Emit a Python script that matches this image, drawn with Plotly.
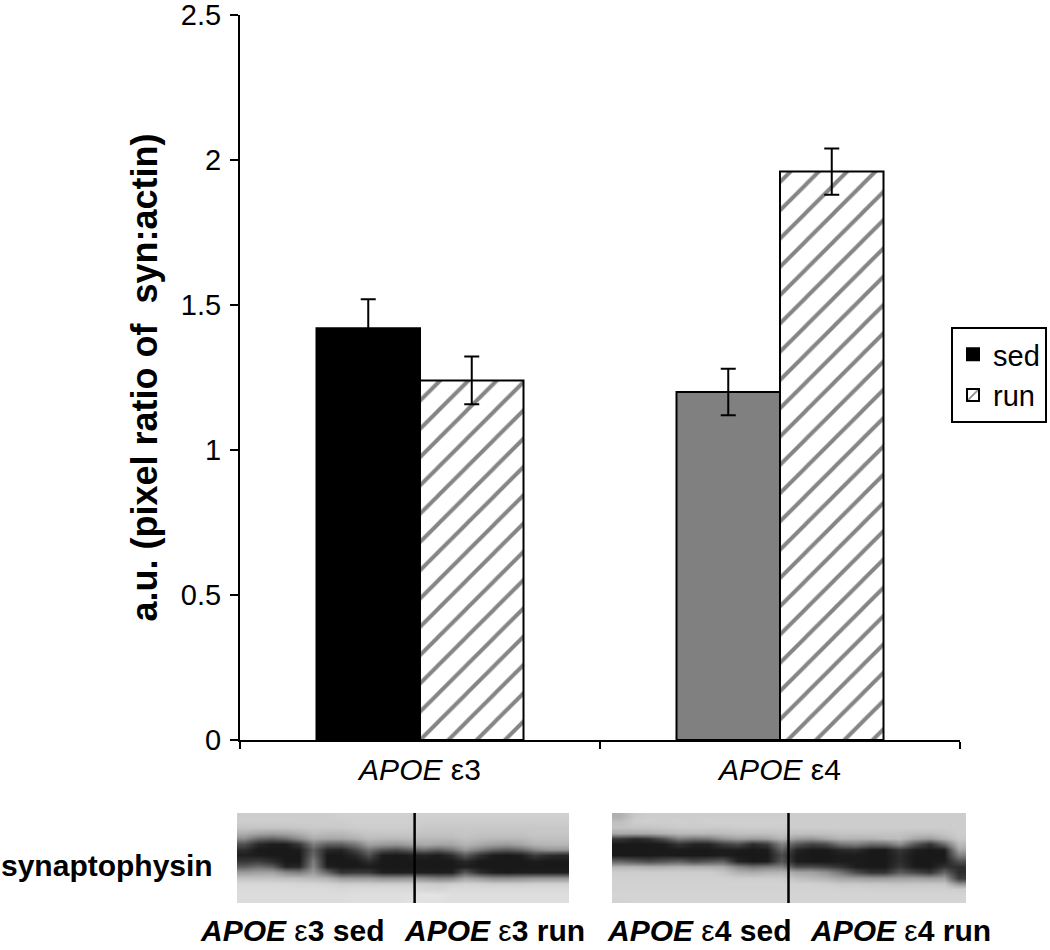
import plotly.graph_objects as go

categories = ["<i>APOE</i> ε3", "<i>APOE</i> ε4"]
sed_values = [1.42, 1.20]
run_values = [1.24, 1.96]
sed_errors = [0.10, 0.08]
run_errors = [0.082, 0.08]
sed_colors = ["#000000", "#808080"]
y_ticks = [0, 0.5, 1, 1.5, 2, 2.5]
y_labels = ["0", "0.5", "1", "1.5", "2", "2.5"]
blot_labels = ["<b><i>APOE</i></b> ε<b>3 sed</b>", "<b><i>APOE</i></b> ε<b>3 run</b>",
               "<b><i>APOE</i></b> ε<b>4 sed</b>", "<b><i>APOE</i></b> ε<b>4 run</b>"]

# estimated grey levels of the western-blot photographs (rows top to bottom)
left_blot = [
 [205,205,205,205,205,205,205,208,208,208,208,208,208,208,208,208,208,208,208,208,208,208,208,208],
 [205,205,205,205,205,205,205,205,208,208,208,208,208,205,205,205,205,205,205,205,205,205,205,205],
 [198,198,198,198,200,202,202,202,205,205,205,205,205,200,200,200,200,200,200,200,200,200,200,200],
 [175,165,160,165,175,190,185,185,192,198,198,198,198,195,195,195,198,195,195,195,195,198,198,198],
 [140,105,95,110,140,170,165,165,175,188,185,185,188,185,185,185,192,188,185,185,185,192,192,192],
 [80,40,28,28,55,125,95,95,120,160,155,150,160,170,165,165,180,170,160,155,165,180,182,182],
 [45,25,25,25,28,95,40,35,70,115,85,75,95,110,95,115,150,125,100,90,105,135,150,150],
 [32,28,25,25,25,105,25,25,40,80,28,25,30,35,28,45,90,50,28,25,30,60,45,40],
 [55,60,45,25,25,125,25,25,25,45,25,25,25,25,25,25,40,25,25,25,25,28,25,25],
 [95,110,95,35,40,135,32,25,25,28,25,25,25,25,25,25,30,25,25,25,25,25,25,25],
 [155,160,160,135,125,155,100,50,55,55,30,28,30,30,28,30,85,45,28,25,28,28,28,28],
 [195,195,195,190,190,185,178,155,155,155,145,145,150,140,130,135,165,155,140,140,145,150,150,150],
 [215,215,215,215,212,212,210,205,205,205,205,205,205,205,200,205,210,208,205,205,205,208,208,208],
 [218,218,218,218,218,218,218,215,218,218,218,218,218,215,212,218,218,218,218,218,218,218,218,218],
 [220,220,220,220,220,220,220,220,222,222,222,222,225,228,228,222,222,222,222,222,222,222,222,222],
 [220,220,220,220,220,220,220,220,222,222,222,222,225,225,225,222,222,222,222,222,222,222,222,222],
]
right_blot = [
 [175,200,205,205,205,205,205,205,205,205,205,205,205,205,205,205,205,205,205,205,205,205,205,205],
 [190,205,208,205,208,205,208,208,208,208,208,208,205,205,205,205,205,205,205,205,205,205,205,205],
 [195,198,198,200,203,203,203,203,205,205,205,205,205,205,205,205,205,205,205,205,205,205,205,205],
 [170,170,172,178,185,185,185,187,192,192,192,196,192,192,192,196,196,196,196,196,190,190,196,205],
 [55,40,50,80,125,115,120,145,160,155,160,180,155,150,165,180,178,178,185,188,165,155,178,200],
 [25,25,25,28,50,35,35,60,75,42,60,130,85,65,75,115,125,105,110,140,85,50,105,185],
 [25,25,25,25,26,25,25,28,28,25,28,100,35,25,25,40,45,25,25,55,30,25,28,165],
 [25,25,25,28,26,25,25,30,25,25,25,75,28,25,25,28,28,25,25,45,25,25,25,130],
 [100,85,75,85,95,75,85,95,35,25,28,85,28,25,25,28,28,25,25,45,25,25,28,80],
 [180,180,175,175,180,175,175,170,135,115,125,130,75,75,65,50,28,25,25,55,26,25,50,45],
 [205,205,205,205,205,205,205,198,178,172,178,180,165,160,145,115,75,50,50,90,70,50,100,45],
 [208,208,208,208,208,208,208,208,205,205,205,205,192,185,178,165,160,155,155,160,160,155,160,60],
 [210,210,210,210,210,210,210,210,210,210,210,210,208,208,206,200,200,198,198,195,198,198,198,145],
 [210,210,210,210,210,210,210,210,210,210,210,210,210,210,210,210,210,208,208,208,208,208,208,205],
 [212,212,212,212,212,212,212,212,212,212,212,212,212,212,212,212,212,212,212,212,212,212,212,212],
 [210,212,212,212,212,212,212,212,212,212,212,212,212,212,212,212,212,212,212,212,212,212,212,212],
]
left_separator = [0.535]
right_separator = [0.4986]

W, H = 1050, 950
grey = [[0, "#000000"], [1, "#ffffff"]]

fig = go.Figure()
fig.add_bar(name="sed", x=categories, y=sed_values,
            marker=dict(color=sed_colors, line=dict(color="black", width=2)),
            error_y=dict(type="data", array=sed_errors, color="black", thickness=2, width=7.5))
fig.add_bar(name="run", x=categories, y=run_values,
            marker=dict(color="white", line=dict(color="black", width=2),
                        pattern=dict(shape="/", fgcolor="#858585", bgcolor="white", fgopacity=1,
                                     fillmode="replace", size=20, solidity=0.2)),
            error_y=dict(type="data", array=run_errors, color="black", thickness=2, width=7.5))

for blot, xa, ya in ((left_blot, "x2", "y2"), (right_blot, "x3", "y3")):
    fig.add_heatmap(z=blot, xaxis=xa, yaxis=ya, colorscale=grey, zmin=0, zmax=255,
                    zsmooth="best", showscale=False, hoverinfo="skip", showlegend=False)

hidden = dict(visible=False, showgrid=False, zeroline=False, automargin=False)
fig.update_layout(
    template="none",
    width=W, height=H, margin=dict(l=0, r=0, t=0, b=0, pad=0), autosize=False,
    paper_bgcolor="white", plot_bgcolor="white", barmode="group", bargap=0.425, bargroupgap=0,
    font=dict(family="Liberation Sans, Arial, sans-serif", color="black", size=29),
    xaxis=dict(domain=[240/W, 960/W], anchor="y", showline=True, linecolor="black", linewidth=2,
               ticks="outside", ticklen=7, tickwidth=2, tickcolor="black", tickson="boundaries",
               tickfont=dict(size=30), showgrid=False, automargin=False, ticklabelstandoff=2),
    yaxis=dict(domain=[1-740/H, 1-15/H], anchor="x", range=[0, 2.5], tickvals=y_ticks, ticktext=y_labels,
               showline=True, linecolor="black", linewidth=2, ticks="outside", ticklen=8, tickwidth=2,
               tickcolor="black", tickfont=dict(size=29), showgrid=False, zeroline=False, automargin=False,
               ticklabelstandoff=3, ticklabeloverflow="allow",
               title=dict(text="<b>a.u. (pixel ratio of  syn:actin)</b>", font=dict(size=36), standoff=12)),
    xaxis2=dict(domain=[237/W, 569/W], anchor="y2", **hidden),
    yaxis2=dict(domain=[1-903/H, 1-813/H], anchor="x2", autorange="reversed", **hidden),
    xaxis3=dict(domain=[612/W, 966/W], anchor="y3", **hidden),
    yaxis3=dict(domain=[1-903/H, 1-813/H], anchor="x3", autorange="reversed", **hidden),
    legend=dict(x=951/W, y=1-375/H, xanchor="left", yanchor="middle", bordercolor="black", borderwidth=2,
                font=dict(size=29), bgcolor="white", itemwidth=30, traceorder="normal", tracegroupgap=0),
    showlegend=True,
)

fig.add_shape(type="line", xref="x2 domain", yref="y2 domain", x0=left_separator[0], x1=left_separator[0],
              y0=0, y1=1, line=dict(color="black", width=2.5))
fig.add_shape(type="line", xref="x3 domain", yref="y3 domain", x0=right_separator[0], x1=right_separator[0],
              y0=0, y1=1, line=dict(color="black", width=2.5))

fig.add_annotation(text="<b>synaptophysin</b>", xref="paper", yref="paper", x=0, y=1-865/H,
                   xanchor="left", yanchor="middle", showarrow=False, font=dict(size=30), borderpad=0)
for label, cx in zip(blot_labels, [292, 494, 699, 900]):
    fig.add_annotation(text=label, xref="paper", yref="paper", x=cx/W, y=1-930/H,
                       xanchor="center", yanchor="middle", showarrow=False, font=dict(size=30), borderpad=0)

fig.write_html("out.html", config={"displayModeBar": False},
               post_script="document.body.style.margin='0';document.body.style.overflow='hidden';")
